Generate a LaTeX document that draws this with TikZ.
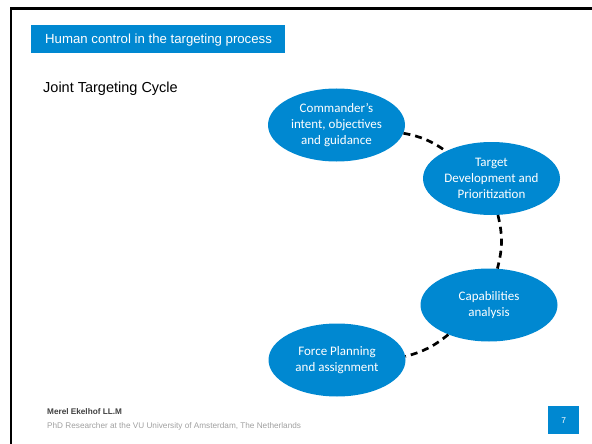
\documentclass[tikz,border=0pt]{standalone}
\usepackage{fontspec}
\setmainfont{Liberation Sans}
\newfontfamily\calibrifont{Carlito}
\usetikzlibrary{shapes.geometric}
\definecolor{slideblue}{RGB}{0,136,209}
\definecolor{namegray}{RGB}{64,64,64}
\definecolor{subgray}{RGB}{160,160,160}
\tikzset{
  stepell/.style={ellipse, fill=slideblue, draw=none, minimum width=137pt, minimum height=73pt,
    inner sep=0pt, text=white, align=center,
    font=\calibrifont\fontsize{13}{16}\selectfont},
  conn/.style={draw=black, line width=2.7pt, dash pattern=on 7pt off 5pt},
}
\begin{document}
\begin{tikzpicture}[x=1pt,y=-1pt]
\useasboundingbox (0,0) rectangle (592,444);
% frame
\draw[line width=2.4pt, line cap=rect] (10.8,450) -- (10.8,8.5) -- (600,8.5);
% title bar
\node[fill=slideblue, minimum width=254pt, minimum height=28pt, inner sep=0pt, anchor=north west] (titlebar) at (31,25) {};
\node[anchor=base west, text=white, inner sep=0pt, font=\fontsize{13.2}{15}\selectfont] (titletext) at (45,44) {Human control in the targeting process};
\node[anchor=base west, inner sep=0pt, font=\fontsize{14.5}{17}\selectfont] (heading) at (43,92.5) {Joint Targeting Cycle};
% ellipses
\node[stepell] (c1) at (336.5,125) {Commander’s\\intent, objectives\\and guidance};
\node[stepell] (c2) at (491.5,178.5) {Target\\Development and\\Prioritization};
\node[stepell] (c3) at (489,305) {Capabilities\\analysis};
\node[stepell] (c4) at (337,360) {Force Planning\\and assignment};
% connectors
\draw[conn] (c1.-7) to[bend left=12] (c2.149);
\draw[conn] (c2.-80) to[bend left=14] (c3.77);
\draw[conn] (c3.-144) to[bend left=12] (c4.3);
% footer
\node[anchor=base west, inner sep=0pt, text=namegray, font=\bfseries\fontsize{8.2}{10}\selectfont] (author) at (47,414) {Merel Ekelhof LL.M};
\node[anchor=base west, inner sep=0pt, text=subgray, font=\fontsize{8.2}{10}\selectfont] (affil) at (47,428.5) {PhD Researcher at the VU University of Amsterdam, The Netherlands};
\node[fill=slideblue, minimum width=31pt, minimum height=28pt, inner sep=0pt, anchor=north west, text=white, font=\fontsize{8.5}{10}\selectfont] (pagenum) at (548,406) {7};
\end{tikzpicture}
\end{document}
